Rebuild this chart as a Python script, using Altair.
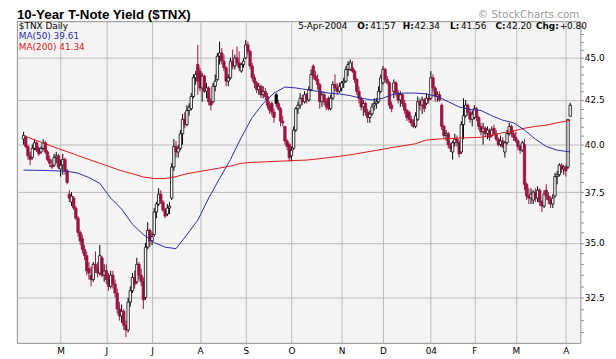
import json
import altair as alt
import numpy as np
import pandas as pd

# ---------------- data ----------------
# daily bars, 7-Apr-2003 .. 5-Apr-2004 (trading-day index 0..251)
opens = [
    40.3, 40.4, 39.9, 39.4, 39.3, 39.8, 40.1, 39.8, 39.6, 39.8,
    40.1, 39.6, 39.2, 38.9, 38.9, 39.3, 39.4, 38.7, 38.9, 39.2,
    38.6, 37.4, 37.0, 37.2, 36.7, 36.2, 35.5, 35.2, 34.7, 34.4,
    33.8, 33.5, 33.3, 34.0, 33.8, 33.6, 34.3, 33.5, 33.7, 33.3,
    33.0, 33.5, 33.1, 32.7, 32.0, 31.7, 31.9, 31.3, 31.1, 32.3,
    32.8, 33.4, 33.2, 34.0, 33.5, 33.2, 32.5, 34.8, 35.6, 35.1,
    35.4, 36.5, 36.9, 37.4, 37.0, 36.6, 36.4, 36.7, 37.2, 38.8,
    39.9, 39.6, 39.8, 40.6, 41.4, 41.1, 41.9, 42.0, 42.7, 43.8,
    44.6, 44.2, 43.2, 43.9, 43.0, 43.2, 42.4, 42.4, 43.3, 43.7,
    45.1, 45.3, 44.8, 44.4, 43.6, 43.8, 44.8, 44.5, 45.0, 44.7,
    44.2, 44.6, 45.0, 45.8, 45.4, 44.5, 43.8, 43.5, 43.1, 43.3,
    42.8, 43.0, 42.7, 42.2, 42.3, 41.8, 42.8, 42.3, 42.0, 41.3,
    41.0, 40.2, 40.0, 39.4, 39.8, 40.8, 42.0, 42.2, 42.6, 42.4,
    42.8, 42.5, 43.1, 44.5, 43.9, 43.7, 43.4, 42.4, 42.8, 42.4,
    42.6, 42.0, 42.6, 43.4, 43.2, 43.0, 43.2, 43.5, 43.6, 44.3,
    44.3, 44.4, 44.2, 43.7, 43.0, 42.6, 42.1, 42.3, 41.8, 41.5,
    41.7, 42.2, 42.3, 42.4, 43.0, 43.5, 44.3, 43.7, 43.5, 42.2,
    43.0, 43.5, 42.9, 42.5, 42.8, 42.3, 41.9, 41.8, 41.4, 41.2,
    41.0, 41.4, 42.4, 42.2, 42.5, 42.3, 42.6, 42.6, 43.8, 43.2,
    42.7, 42.8, 42.2, 41.0, 40.5, 40.6, 40.0, 39.6, 40.1, 40.3,
    40.1, 39.6, 41.1, 41.6, 42.2, 41.8, 41.4, 41.5, 42.0, 41.5,
    41.0, 40.7, 40.9, 40.6, 40.8, 40.5, 40.9, 40.6, 40.3, 40.0,
    40.2, 39.6, 40.1, 40.6, 41.0, 40.6, 40.4, 40.2, 39.9, 39.7,
    40.0, 37.9, 37.3, 37.2, 37.1, 37.5, 37.2, 37.6, 37.0, 36.8,
    37.6, 37.3, 37.1, 36.9, 37.3, 38.3, 38.4, 38.9, 38.7, 38.8,
    38.8, 41.57,
]
highs = [
    40.7, 40.5, 40.0, 39.6, 40.0, 40.3, 40.2, 39.9, 39.9, 40.3,
    40.2, 39.7, 39.4, 39.2, 39.5, 39.6, 39.5, 39.2, 39.5, 39.3,
    38.7, 37.6, 37.5, 37.3, 36.8, 36.3, 35.6, 35.4, 34.9, 34.6,
    34.1, 33.9, 34.1, 34.6, 34.1, 34.9, 34.4, 34.0, 34.0, 33.6,
    33.7, 33.7, 33.3, 32.9, 32.3, 32.2, 32.0, 31.5, 32.5, 33.0,
    33.6, 33.7, 34.3, 34.1, 33.8, 33.4, 35.0, 36.0, 35.7, 35.5,
    36.7, 37.0, 37.7, 37.6, 37.1, 36.7, 36.9, 37.0, 39.0, 40.3,
    40.2, 40.0, 40.8, 41.7, 41.8, 42.2, 42.3, 42.9, 44.0, 44.2,
    45.8, 44.4, 44.1, 44.0, 43.5, 43.3, 42.6, 43.5, 44.0, 45.3,
    46.0, 45.6, 45.2, 44.5, 44.0, 45.0, 45.5, 45.2, 45.7, 45.4,
    44.7, 45.0, 46.1, 46.0, 45.5, 44.7, 44.0, 43.6, 43.5, 43.4,
    43.3, 43.2, 42.9, 42.4, 42.4, 42.0, 42.9, 42.5, 42.1, 41.6,
    41.0, 40.3, 40.1, 39.9, 41.0, 42.1, 42.4, 42.9, 42.8, 43.0,
    42.9, 43.3, 44.3, 44.6, 44.2, 44.0, 43.5, 43.0, 43.0, 42.6,
    42.7, 42.8, 43.6, 44.0, 43.5, 43.5, 43.6, 43.8, 44.5, 44.8,
    44.9, 44.8, 44.3, 43.8, 43.3, 42.7, 42.5, 42.4, 42.0, 41.9,
    42.3, 42.6, 42.6, 43.3, 44.0, 44.5, 44.4, 43.9, 43.6, 42.4,
    43.7, 43.6, 43.1, 43.0, 42.9, 42.5, 42.0, 41.9, 41.6, 41.4,
    41.8, 42.7, 42.6, 42.7, 42.6, 42.9, 42.8, 44.2, 44.0, 43.3,
    43.0, 43.0, 42.3, 41.1, 40.8, 40.7, 40.1, 40.2, 40.6, 40.5,
    40.2, 41.3, 42.6, 42.5, 42.3, 42.0, 41.9, 42.2, 42.1, 41.6,
    41.2, 41.2, 41.0, 41.0, 40.9, 41.0, 41.1, 40.8, 40.4, 40.5,
    40.4, 40.2, 40.8, 41.2, 41.1, 40.8, 40.7, 40.3, 40.0, 40.2,
    40.3, 38.0, 37.7, 37.7, 37.6, 37.7, 37.8, 37.7, 37.1, 37.6,
    37.9, 37.5, 37.3, 37.4, 38.5, 38.6, 39.0, 39.0, 38.9, 38.9,
    41.4, 42.34,
]
lows = [
    40.0, 39.8, 39.2, 38.9, 39.2, 39.7, 39.6, 39.4, 39.5, 39.7,
    39.5, 39.1, 38.8, 38.7, 38.8, 39.0, 38.7, 38.3, 38.4, 38.4,
    37.9, 37.0, 36.8, 36.6, 36.1, 35.3, 34.9, 34.5, 34.2, 33.5,
    33.3, 33.0, 33.2, 33.6, 33.4, 33.5, 33.4, 33.2, 33.1, 32.8,
    32.9, 32.9, 32.5, 31.8, 31.5, 31.4, 31.1, 30.8, 31.0, 32.1,
    32.7, 32.9, 33.1, 33.3, 33.0, 32.0, 32.4, 34.7, 34.8, 34.9,
    35.3, 36.2, 36.8, 36.9, 36.5, 36.2, 36.3, 36.4, 37.1, 38.6,
    39.3, 39.3, 39.7, 40.0, 40.9, 41.0, 41.6, 41.9, 42.6, 43.4,
    42.8, 43.0, 42.4, 42.9, 42.6, 42.2, 41.9, 42.3, 43.0, 43.6,
    44.6, 44.6, 44.2, 43.3, 43.3, 43.7, 44.3, 44.3, 44.5, 44.2,
    44.1, 44.4, 44.9, 45.2, 44.3, 43.6, 43.2, 42.9, 42.8, 42.6,
    42.6, 42.5, 42.0, 41.7, 41.6, 41.2, 42.1, 41.9, 41.0, 41.0,
    40.0, 39.7, 39.1, 39.1, 39.7, 40.7, 41.7, 42.0, 42.2, 42.3,
    42.3, 42.4, 43.0, 43.7, 43.6, 43.1, 42.0, 42.1, 42.2, 41.9,
    41.9, 41.9, 42.5, 43.0, 42.8, 42.9, 43.0, 43.2, 43.5, 43.9,
    44.2, 44.1, 43.5, 42.8, 42.3, 41.9, 41.6, 41.6, 41.2, 41.2,
    41.6, 41.9, 42.0, 42.3, 42.9, 43.4, 43.5, 43.4, 42.0, 41.8,
    42.6, 42.7, 42.3, 42.1, 42.1, 41.7, 41.3, 41.2, 41.0, 40.9,
    40.9, 41.3, 41.9, 41.7, 41.8, 42.2, 42.3, 42.5, 43.0, 42.4,
    42.4, 42.4, 40.8, 40.3, 40.2, 39.8, 39.6, 39.2, 39.9, 39.9,
    39.3, 39.5, 40.3, 41.5, 41.6, 41.2, 41.0, 41.4, 41.3, 40.8,
    40.5, 40.0, 40.4, 40.3, 40.2, 40.4, 40.5, 40.2, 39.9, 39.9,
    39.8, 39.3, 40.0, 40.5, 40.4, 40.2, 40.1, 39.7, 39.5, 39.6,
    37.6, 37.1, 36.9, 36.9, 36.9, 37.0, 37.0, 36.8, 36.5, 36.7,
    37.1, 36.9, 36.7, 36.7, 37.2, 37.9, 38.3, 38.5, 38.4, 38.3,
    38.7, 41.56,
]
closes = [
    40.5, 39.9, 39.4, 39.2, 39.8, 40.1, 39.7, 39.5, 39.8, 40.1,
    39.6, 39.2, 39.0, 38.8, 39.3, 39.4, 38.8, 38.9, 39.2, 38.6,
    38.0, 37.2, 37.3, 36.7, 36.2, 35.5, 35.1, 34.7, 34.4, 33.7,
    33.6, 33.3, 34.0, 33.8, 33.6, 34.4, 33.5, 33.7, 33.3, 33.0,
    33.5, 33.1, 32.7, 32.0, 31.7, 31.9, 31.3, 31.1, 32.3, 32.8,
    33.4, 33.1, 34.0, 33.5, 33.2, 32.4, 34.8, 35.6, 35.1, 35.3,
    36.5, 36.9, 37.4, 37.0, 36.6, 36.3, 36.7, 36.8, 38.8, 39.9,
    39.6, 39.8, 40.6, 41.4, 41.1, 41.9, 42.1, 42.7, 43.8, 44.0,
    43.6, 43.2, 43.9, 43.0, 43.2, 42.4, 42.2, 43.3, 43.6, 45.1,
    45.3, 44.8, 44.4, 43.6, 43.8, 44.8, 44.5, 45.0, 44.7, 44.4,
    44.6, 44.8, 45.8, 45.4, 44.5, 43.8, 43.5, 43.1, 43.3, 42.8,
    43.0, 42.7, 42.2, 41.9, 41.8, 41.5, 42.3, 42.0, 41.3, 41.2,
    40.2, 39.9, 39.3, 39.7, 40.8, 42.0, 42.2, 42.6, 42.4, 42.8,
    42.5, 43.1, 44.0, 43.9, 43.7, 43.4, 42.4, 42.8, 42.4, 42.1,
    42.0, 42.6, 43.4, 43.2, 43.0, 43.3, 43.5, 43.6, 44.3, 44.6,
    44.7, 44.2, 43.7, 43.0, 42.6, 42.1, 42.3, 41.8, 41.5, 41.7,
    42.1, 42.3, 42.4, 43.0, 43.8, 44.3, 43.7, 43.5, 42.2, 42.0,
    43.5, 42.9, 42.5, 42.8, 42.3, 41.9, 41.5, 41.4, 41.2, 41.0,
    41.6, 42.4, 42.2, 42.5, 42.0, 42.6, 42.5, 43.8, 43.2, 42.7,
    42.8, 42.5, 41.0, 40.5, 40.6, 40.0, 39.8, 40.1, 40.3, 40.1,
    39.5, 41.1, 41.6, 42.2, 41.8, 41.4, 41.7, 42.0, 41.5, 41.0,
    40.7, 40.9, 40.6, 40.8, 40.4, 40.8, 40.6, 40.3, 40.0, 40.2,
    39.9, 40.1, 40.6, 41.0, 40.6, 40.4, 40.2, 39.9, 39.7, 40.1,
    37.9, 37.3, 37.2, 37.4, 37.5, 37.2, 37.6, 37.0, 36.8, 37.4,
    37.3, 37.1, 36.9, 37.2, 38.3, 38.4, 38.9, 38.7, 38.8, 38.6,
    41.4, 42.20,
]

# moving averages read every 5th trading day (plus the last day)
ma_idx = list(range(0, 251, 5)) + [251]
ma50 = [
    38.64, 38.63, 38.62, 38.60, 38.58, 38.48, 38.25, 37.95, 37.20, 36.65,
    35.90, 35.40, 35.02, 34.80, 34.73, 35.40, 36.10, 37.20, 38.20, 39.20,
    40.40, 41.50, 42.30, 42.90, 43.25, 43.20, 43.10, 43.00, 42.90, 42.85,
    42.75, 42.60, 42.50, 42.60, 42.85, 42.90, 42.90, 42.85, 42.70, 42.40,
    42.10, 41.95, 41.90, 41.60, 41.35, 41.20, 40.80, 40.30, 39.90, 39.70,
    39.62, 39.61,
]
ma200 = [
    40.50, 40.26, 40.05, 39.82, 39.62, 39.41, 39.20, 39.00, 38.80, 38.60,
    38.45, 38.28, 38.20, 38.20, 38.30, 38.45, 38.55, 38.65, 38.75, 38.85,
    39.00, 39.05, 39.07, 39.10, 39.12, 39.15, 39.17, 39.23, 39.30, 39.37,
    39.45, 39.55, 39.65, 39.75, 39.86, 39.95, 40.05, 40.25, 40.30, 40.33,
    40.36, 40.38, 40.40, 40.52, 40.65, 40.75, 40.90, 41.00, 41.07, 41.20,
    41.32, 41.34,
]

month_idx = [17, 38, 59, 81, 102, 123, 146, 165, 187, 207, 226, 249]
month_lbl = ["M", "J", "J", "A", "S", "O", "N", "D", "04", "F", "M", "A"]

y_ticks = [31.0, 31.5, 32.0, 32.5, 33.0, 33.5, 34.0, 34.5, 35.0, 35.5, 36.0,
           36.5, 37.0, 37.5, 38.0, 38.5, 39.0, 39.5, 40.0, 40.5, 41.0, 41.5,
           42.0, 42.5, 43.0, 43.5, 44.0, 44.5, 45.0, 45.5, 46.0, 46.5, 47.0]

# ---------------- styling ----------------
RED = "#9a1340"
BLACK = "#000000"
BLUE = "#2a2aa8"
MA_RED = "#dd1515"
GRID = "#b9bdb9"
FONT = "DejaVu Sans"

n = len(closes)
df = pd.DataFrame({"i": np.arange(n), "o": opens, "h": highs, "l": lows, "c": closes})
prev = df["c"].shift(1).fillna(df["o"])
df["stroke"] = np.where(df["c"] >= prev, BLACK, RED)
df["fill"] = np.where(df["c"] > df["o"], "#ffffff", df["stroke"])

ma_df = pd.DataFrame({"i": ma_idx, "ma50": ma50, "ma200": ma200})

xscale = alt.Scale(domain=[-0.81, 253.4], nice=False, zero=False)
yscale = alt.Scale(type="log", domain=[30.56, 47.3], nice=False, zero=False)

label_expr = "%s[indexof(%s, datum.value)]" % (json.dumps(month_lbl), json.dumps(month_idx))


def xaxis():
    return alt.Axis(values=month_idx, labelExpr=label_expr, grid=True, gridColor=GRID,
                    gridWidth=1, ticks=False, domain=False, title=None,
                    labelFont=FONT, labelFontSize=9, labelColor="black", labelPadding=4,
                    labelOverlap=False, labelFlush=False)


def yaxis():
    return alt.Axis(orient="right", values=y_ticks,
                    labelExpr="datum.value % 2.5 === 0 ? format(datum.value, '.1f') : ''",
                    grid=True, gridColor=GRID, gridWidth=1,
                    gridOpacity={"condition": {"test": "datum.value % 2.5 === 0", "value": 1},
                                 "value": 0},
                    ticks=True, tickSize=3, tickColor="#888888", domain=False, title=None,
                    labelFont=FONT, labelFontSize=9, labelColor="black", labelPadding=1,
                    labelOverlap=False, labelFlush=False)


base = alt.Chart(df)
wicks = base.mark_rule(strokeWidth=1).encode(
    x=alt.X("i:Q", scale=xscale, axis=xaxis()),
    y=alt.Y("l:Q", scale=yscale, axis=yaxis()),
    y2="h:Q",
    color=alt.Color("stroke:N", scale=None),
)
bodies = base.mark_bar(size=2.4, strokeWidth=0.8).encode(
    x=alt.X("i:Q", scale=xscale, axis=xaxis()),
    y=alt.Y("o:Q", scale=yscale, axis=yaxis()),
    y2="c:Q",
    fill=alt.Fill("fill:N", scale=None),
    stroke=alt.Stroke("stroke:N", scale=None),
)
line50 = alt.Chart(ma_df).mark_line(color=BLUE, strokeWidth=1).encode(
    x=alt.X("i:Q", scale=xscale, axis=xaxis()),
    y=alt.Y("ma50:Q", scale=yscale, axis=yaxis()),
)
line200 = alt.Chart(ma_df).mark_line(color=MA_RED, strokeWidth=1).encode(
    x=alt.X("i:Q", scale=xscale, axis=xaxis()),
    y=alt.Y("ma200:Q", scale=yscale, axis=yaxis()),
)


def txt(s, x, y, size=9, weight="normal", color="black", align="left", font=FONT):
    return alt.Chart(pd.DataFrame({"t": [s]})).mark_text(
        align=align, baseline="alphabetic", fontSize=size, fontWeight=weight,
        color=color, font=font,
    ).encode(text="t:N", x=alt.value(x), y=alt.value(y))


texts = [
    txt("10-Year T-Note Yield ($TNX)", 0, -2, size=13.5, weight="bold", font="Liberation Sans"),
    txt("\u00a9 StockCharts.com", 570, -3, size=10.5, color="#9a9a9a", align="right"),
    txt("$TNX Daily", 2, 8, size=9),
    txt("MA(50) 39.61", 2, 18.5, size=9, color=BLUE),
    txt("MA(200) 41.34", 2, 29, size=9, color=MA_RED),
    txt("5-Apr-2004", 285, 8),
    txt("O:", 345, 8, weight="bold"),
    txt("41.57", 358, 8),
    txt("H:", 391, 8, weight="bold"),
    txt("42.34", 403, 8),
    txt("L:", 439, 8, weight="bold"),
    txt("41.56", 450, 8),
    txt("C:", 485, 8, weight="bold"),
    txt("42.20", 496, 8),
    txt("Chg:", 526, 8, weight="bold"),
    txt("+0.80", 550, 8),
]

chart = alt.layer(wicks, bodies, line200, line50, *texts).properties(
    width=571, height=326,
    autosize=alt.AutoSizeParams(type="none"),
    padding={"left": 9, "top": 11, "right": 28, "bottom": 14},
    background="white",
).configure_view(fill="#f4f4f4", stroke="#909090", strokeWidth=1)

chart.save("out.html", embed_options={"renderer": "svg", "actions": False})
